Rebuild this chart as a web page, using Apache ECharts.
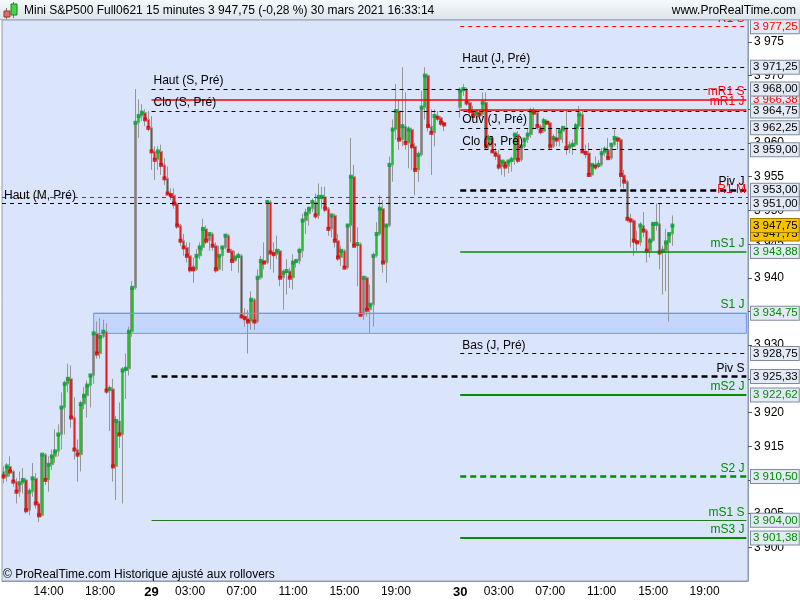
<!DOCTYPE html>
<html>
<head>
<meta charset="utf-8">
<script src="https://cdn.jsdelivr.net/npm/echarts/dist/echarts.min.js"></script>
<style>
  html, body { margin: 0; padding: 0; background: #fff; }
  #main { width: 800px; height: 600px; }
</style>
</head>
<body>
<div id="main"></div>
<script>
// bougies 15 min : [ouverture, plus haut, plus bas, clôture]
// vendredi 26 mars, 10:30 -> 21:45
var fri = [
  [3911.25,3912.0,3909.5,3910.5],[3910.5,3912.5,3909.75,3912.0],[3912.0,3913.5,3910.5,3911.25],
  [3911.25,3911.5,3909.0,3909.75],[3909.75,3910.25,3906.5,3908.25],[3908.25,3911.25,3907.5,3909.5],
  [3909.5,3911.75,3908.0,3910.0],[3910.0,3910.25,3905.0,3905.5],[3905.5,3908.75,3904.75,3908.25],
  [3908.25,3912.5,3907.5,3910.25],[3910.25,3911.0,3905.75,3906.5],[3906.5,3906.75,3903.75,3904.75],
  [3904.75,3914.0,3904.5,3913.75],[3913.75,3914.0,3909.25,3910.0],[3910.0,3913.5,3908.25,3912.25],
  [3912.25,3914.5,3911.5,3913.5],[3913.5,3917.5,3912.5,3914.25],[3914.25,3918.25,3913.5,3916.75],
  [3916.75,3923.0,3914.5,3920.75],[3920.75,3924.75,3916.75,3924.25],[3924.25,3927.25,3923.0,3925.0],
  [3925.0,3927.0,3917.75,3919.25],[3919.25,3922.25,3913.0,3914.5],[3914.5,3916.0,3909.75,3913.75],
  [3913.75,3921.75,3911.25,3921.25],[3921.25,3923.75,3920.5,3922.5],[3922.5,3924.75,3919.25,3924.0],
  [3924.0,3925.75,3920.75,3925.5],[3925.5,3932.5,3924.25,3931.75],[3931.75,3933.5,3928.0,3928.75],
  [3928.75,3934.0,3928.0,3931.25],[3931.25,3933.75,3931.0,3932.0],[3932.0,3933.25,3922.75,3923.25],
  [3923.25,3924.0,3917.25,3923.5],[3923.5,3925.0,3909.75,3912.0],[3912.0,3919.5,3907.0,3918.75],
  [3918.75,3921.5,3914.75,3916.75],[3916.75,3926.75,3906.5,3926.25],[3926.25,3928.75,3922.0,3926.5],
  [3926.5,3932.75,3925.5,3932.0],[3932.0,3939.5,3931.25,3938.5],[3938.5,3968.0,3938.25,3963.0],
  [3963.0,3966.5,3960.75,3964.0],[3964.0,3965.75,3963.25,3964.5],[3964.5,3965.0,3962.5,3963.5],
  [3963.5,3964.75,3961.75,3962.25]
];
// lundi 29 mars, 00:00 -> 22:45
var mon = [
  [3962.25,3964.0,3956.0,3958.75],[3958.75,3959.5,3954.5,3957.5],[3957.5,3959.5,3956.0,3958.75],
  [3958.75,3959.75,3955.25,3956.75],[3956.75,3957.75,3953.75,3954.75],[3954.75,3956.5,3952.25,3952.5],
  [3952.5,3953.25,3951.5,3952.25],[3952.25,3953.25,3950.25,3951.0],[3951.0,3951.25,3947.25,3947.75],
  [3947.75,3948.0,3944.75,3945.5],[3945.5,3946.5,3943.25,3944.5],[3944.5,3945.25,3942.25,3943.25],
  [3943.25,3945.25,3940.75,3941.25],[3941.75,3943.0,3939.25,3941.25],[3941.25,3944.25,3941.0,3943.25],
  [3943.25,3945.25,3942.75,3944.5],[3944.5,3948.75,3944.0,3947.25],[3947.25,3947.75,3945.0,3945.5],
  [3945.5,3946.75,3944.0,3946.5],[3946.5,3946.75,3944.0,3944.75],[3944.75,3945.25,3940.75,3941.25],
  [3941.25,3944.75,3941.0,3943.25],[3943.25,3944.75,3941.0,3944.5],[3944.5,3946.5,3944.25,3946.25],
  [3946.25,3946.5,3943.75,3944.0],[3944.0,3944.25,3941.0,3942.5],[3942.5,3944.0,3942.25,3943.0],
  [3943.0,3943.75,3940.75,3943.25],[3943.25,3943.5,3934.0,3934.25],[3934.25,3935.5,3932.75,3934.0],
  [3934.0,3935.25,3928.75,3933.5],[3933.5,3938.0,3932.25,3936.75],[3936.75,3937.0,3932.25,3933.5],
  [3933.5,3941.25,3933.25,3940.0],[3940.0,3943.25,3939.75,3942.5],[3942.5,3945.25,3941.25,3942.25],
  [3942.25,3951.5,3942.0,3951.25],[3951.25,3951.5,3941.25,3943.75],[3943.75,3945.25,3940.75,3943.5],
  [3943.5,3946.25,3942.75,3944.0],[3944.0,3944.25,3938.75,3940.0],[3940.0,3941.25,3935.25,3940.75],
  [3940.75,3942.75,3937.5,3941.0],[3941.0,3941.5,3938.5,3940.0],[3940.0,3943.5,3938.25,3942.25],
  [3942.25,3942.75,3941.5,3942.5],[3942.5,3944.5,3942.0,3944.0],[3944.0,3949.5,3943.0,3948.5],
  [3948.5,3950.25,3946.5,3949.5],[3949.5,3950.5,3947.75,3950.25],[3950.25,3951.75,3949.75,3951.25],
  [3951.25,3952.5,3948.75,3949.25],[3949.25,3954.0,3948.75,3952.0],[3951.75,3953.5,3950.25,3952.0],
  [3952.0,3953.5,3949.75,3950.25],[3950.25,3950.5,3946.25,3947.25],[3947.25,3949.5,3946.0,3949.25],
  [3949.25,3949.5,3944.5,3945.5],[3945.5,3946.5,3942.5,3943.0],[3943.0,3944.75,3941.75,3944.0],
  [3944.0,3944.25,3941.25,3941.5],[3941.5,3948.0,3941.25,3947.75],[3947.75,3960.75,3945.25,3955.0],
  [3955.0,3956.75,3944.5,3944.75],[3944.75,3947.5,3938.75,3945.0],[3945.0,3945.25,3934.25,3934.5],
  [3934.5,3940.25,3933.75,3940.0],[3940.0,3940.25,3934.25,3935.25],[3935.25,3939.0,3931.75,3936.0],
  [3936.0,3943.75,3932.75,3943.25],[3943.25,3948.25,3943.0,3946.5],[3946.5,3952.25,3946.25,3950.25],
  [3950.25,3951.5,3940.75,3942.25],[3942.25,3948.0,3939.25,3947.75],[3947.75,3958.0,3947.5,3956.75],
  [3956.75,3963.5,3954.25,3962.0],[3962.0,3968.75,3960.5,3964.75],[3964.75,3966.5,3959.0,3960.5],
  [3960.5,3971.25,3959.5,3962.5],[3962.5,3967.5,3959.0,3960.0],[3960.0,3962.5,3956.25,3962.0],
  [3962.0,3962.25,3956.0,3959.5],[3959.5,3960.0,3952.25,3956.0],[3956.0,3958.75,3954.25,3958.25],
  [3958.25,3967.75,3958.0,3965.25],[3965.25,3971.25,3963.5,3970.0],[3970.0,3970.25,3961.75,3962.5],
  [3962.5,3965.0,3955.25,3961.5],[3961.5,3965.0,3959.5,3964.0],[3964.0,3964.75,3963.25,3963.75],
  [3963.75,3964.0,3962.5,3963.0],[3963.0,3963.25,3961.75,3962.75]
];
var monBreakSlots = 4; // 23:00 -> 23:45 sans cotation
// mardi 30 mars, 00:00 -> 16:30
var tue = [
  [3965.25,3968.25,3963.75,3967.75],[3967.75,3968.75,3967.0,3968.0],[3968.0,3968.25,3965.5,3966.0],
  [3966.0,3966.25,3964.25,3964.75],[3964.75,3965.5,3963.75,3964.0],[3964.0,3965.0,3963.5,3964.5],
  [3964.5,3965.0,3964.0,3964.25],[3964.25,3967.5,3963.75,3966.0],[3966.0,3967.5,3959.0,3959.5],
  [3959.5,3961.25,3959.0,3960.75],[3960.75,3961.0,3958.5,3958.75],[3958.75,3959.25,3957.5,3958.25],
  [3958.25,3959.0,3956.0,3956.5],[3956.5,3957.5,3955.25,3957.25],[3957.25,3957.5,3955.0,3956.5],
  [3956.5,3957.5,3955.5,3957.25],[3957.25,3958.0,3955.75,3957.5],[3957.5,3961.5,3956.75,3961.25],
  [3961.25,3961.75,3957.0,3957.5],[3957.5,3960.5,3957.25,3959.5],[3959.5,3960.75,3959.25,3960.5],
  [3960.5,3962.0,3960.0,3961.25],[3961.25,3965.25,3960.75,3964.75],[3964.75,3965.25,3962.0,3964.5],
  [3964.5,3964.75,3962.0,3962.5],[3962.5,3962.75,3961.25,3961.75],[3961.75,3963.75,3961.5,3963.25],
  [3963.25,3963.5,3962.75,3963.0],[3963.0,3963.25,3959.0,3959.5],[3959.5,3961.25,3959.25,3960.75],
  [3960.75,3962.25,3959.5,3960.5],[3960.5,3962.0,3959.5,3961.75],[3961.75,3962.5,3960.0,3962.25],
  [3962.25,3964.75,3958.25,3959.25],[3959.25,3960.25,3958.5,3959.5],[3959.5,3960.5,3958.25,3959.75],
  [3959.75,3963.0,3959.5,3962.5],[3962.5,3965.5,3962.0,3964.25],[3964.25,3964.75,3958.5,3958.75],
  [3958.75,3959.75,3957.75,3958.5],[3958.5,3960.0,3955.0,3955.25],[3955.25,3957.0,3955.0,3956.75],
  [3956.75,3958.0,3956.0,3956.5],[3956.5,3957.5,3956.25,3956.75],[3956.75,3959.25,3956.5,3958.5],
  [3958.5,3959.5,3958.0,3959.0],[3959.0,3960.75,3957.5,3957.75],[3957.75,3960.0,3957.5,3959.75],
  [3959.75,3962.0,3959.5,3960.75],[3960.75,3961.0,3959.0,3960.5],[3960.5,3960.75,3953.5,3955.25],
  [3955.25,3956.0,3953.25,3954.25],[3954.25,3954.5,3948.25,3948.75],[3948.75,3949.5,3944.5,3948.5],
  [3948.5,3948.75,3943.25,3945.5],[3945.5,3947.0,3944.0,3945.25],[3945.25,3948.25,3944.75,3947.75],
  [3947.75,3949.75,3946.0,3947.0],[3947.0,3947.25,3942.25,3944.0],[3944.0,3946.0,3943.0,3945.5],
  [3945.5,3948.25,3945.25,3948.0],[3948.0,3951.0,3947.0,3948.0],[3948.0,3951.0,3941.25,3943.75],
  [3943.75,3944.75,3937.5,3944.0],[3944.0,3947.25,3938.0,3945.25],[3945.25,3946.75,3933.5,3946.5],
  [3946.5,3949.25,3944.75,3947.75]
];

// niveaux (pivots, plus hauts / bas précédents)
var levelNames  = ['R1 S','Haut (J, Pré)','Haut (S, Pré)','mR1 S','mR1 J','Clo (S, Pré)','Ouv (J, Pré)',
                   'Clo (J, Pré)','Piv J','R1 M','Haut (M, Pré)','mS1 J','S1 J','Bas (J, Pré)','Piv S',
                   'mS2 J','S2 J','mS1 S','mS3 J'];
var levelValues = [3977.25,3971.25,3968.00,3966.38,3965.00,3964.75,3962.25,3959.00,3953.00,3951.92,
                   3951.00,3943.88,3934.75,3928.75,3925.33,3922.62,3910.50,3904.00,3901.38];
var levelFrom   = ['30 00:00','30 00:00','29 00:00','29 00:00','30 00:00','29 00:00','30 00:00',
                   '30 00:00','30 00:00',null,null,'30 00:00','26 17:30','30 00:00','29 00:00',
                   '30 00:00','30 00:00','29 00:00','30 00:00'];
var zoneFrom = '26 17:30', zoneTop = 3934.75, zoneBottom = 3931.75;
var lastPrice = 3947.75;

var tickTimes = ['26 14:00','26 18:00','29 00:00','29 03:00','29 07:00','29 11:00','29 15:00','29 19:00',
                 '29 23:00','30 03:00','30 07:00','30 11:00','30 15:00','30 19:00'];
var tickLabels = {'26 14:00':'14:00','26 18:00':'18:00','29 00:00':'{d|29}','29 03:00':'03:00',
                  '29 07:00':'07:00','29 11:00':'11:00','29 15:00':'15:00','29 19:00':'19:00',
                  '30 00:00':'{d|30}','30 03:00':'03:00','30 07:00':'07:00','30 11:00':'11:00',
                  '30 15:00':'15:00','30 19:00':'19:00'};

// créneaux de 15 minutes de l'axe des temps
function pad(n) { return (n < 10 ? '0' : '') + n; }
function slots(day, from, to) {
  var out = [];
  for (var m = from; m <= to; m += 15) out.push(day + ' ' + pad(Math.floor(m / 60)) + ':' + pad(m % 60));
  return out;
}
var categories = [].concat(slots('26', 630, 1305), slots('29', 0, 1425), slots('30', 0, 1335));
var lastCat = categories[categories.length - 1];

function fr(v, dec) {
  var s = v.toFixed(dec).split('.');
  var ent = s[0].replace(/\B(?=(\d{3})+(?!\d))/g, ' ');
  return s.length > 1 ? ent + ',' + s[1] : ent;
}

var RED = '#ff0000', GREEN = '#008c00', BLACK = '#000000';
var dash = [4, 4];
var lineStyles = {
  'R1 S': {color: RED, type: dash, width: 1},
  'Haut (J, Pré)': {color: BLACK, type: dash, width: 1},
  'Haut (S, Pré)': {color: BLACK, type: dash, width: 1},
  'mR1 S': {color: RED, type: 'solid', width: 1.5},
  'mR1 J': {color: RED, type: 'solid', width: 1.5},
  'Clo (S, Pré)': {color: BLACK, type: dash, width: 1},
  'Ouv (J, Pré)': {color: BLACK, type: dash, width: 1},
  'Clo (J, Pré)': {color: BLACK, type: dash, width: 1},
  'Piv J': {color: BLACK, type: [6, 4], width: 2.5},
  'R1 M': {color: RED, type: dash, width: 1},
  'Haut (M, Pré)': {color: BLACK, type: dash, width: 1},
  'mS1 J': {color: GREEN, type: 'solid', width: 1.5},
  'S1 J': {color: '#6a98f4', type: 'solid', width: 1},
  'Bas (J, Pré)': {color: BLACK, type: dash, width: 1},
  'Piv S': {color: BLACK, type: [6, 4], width: 2.5},
  'mS2 J': {color: GREEN, type: 'solid', width: 2},
  'S2 J': {color: GREEN, type: [6, 4], width: 2.5},
  'mS1 S': {color: '#1f7a1f', type: 'solid', width: 1},
  'mS3 J': {color: GREEN, type: 'solid', width: 2}
};
function textColor(name) {
  var c = lineStyles[name].color;
  if (c === RED) return RED;
  if (name.indexOf('S1 J') >= 0 || c !== BLACK) return GREEN;
  return BLACK;
}

var levelLines = levelNames.map(function (name, i) {
  var v = levelValues[i];
  var left = name.indexOf('Pré') >= 0;
  var label = {
    show: true, formatter: name, color: textColor(name), fontSize: 12,
    position: left ? 'insideStartTop' : 'insideEndTop', distance: 2
  };
  if (levelFrom[i] === null) {
    return {yAxis: v, lineStyle: lineStyles[name], label: label};
  }
  return [
    {coord: [levelFrom[i], v], lineStyle: lineStyles[name], label: label},
    {coord: [lastCat, v]}
  ];
});

// étiquettes de prix sur l'axe (les rouges dessous)
var boxOrder = levelNames.map(function (n, i) { return i; })
  .filter(function (i) { return levelNames[i] !== 'mR1 J'; })
  .sort(function (a, b) {
    return (textColor(levelNames[b]) === RED) - (textColor(levelNames[a]) === RED);
  });
var boxLines = boxOrder.map(function (i) {
  return {yAxis: levelValues[i], label: {formatter: fr(levelValues[i], 2), color: textColor(levelNames[i])}};
});

var bars = [].concat(fri, mon, new Array(monBreakSlots).fill(null), tue);
var candleData = bars.map(function (d) { return d ? [d[0], d[3], d[2], d[1]] : '-'; });
var closeData = [];
bars.forEach(function (d, i) {
  if (d) closeData.push({value: [i, d[3]], itemStyle: {color: d[3] >= d[0] ? '#00a032' : '#dd0000'}});
});

var boxLabel = {
  show: true, position: 'end', distance: 3, fontSize: 11.5,
  backgroundColor: '#e3eaf5', borderColor: '#7d8d9e', borderWidth: 1,
  padding: [1, 1, 0, 2], lineHeight: 12
};
var hidden = {color: 'rgba(0,0,0,0)', width: 1, type: 'solid'};
var hdrFont = '12px "Liberation Sans", Arial, sans-serif';

var chart = echarts.init(document.getElementById('main'), null, {renderer: 'canvas'});
chart.setOption({
  animation: false,
  backgroundColor: '#ffffff',
  textStyle: {fontFamily: 'Liberation Sans, Arial, sans-serif'},
  grid: {
    left: 2, right: 52, top: 20, bottom: 19, show: true,
    backgroundColor: '#dae4fb', borderColor: '#8f9ba8', borderWidth: 1
  },
  xAxis: {
    type: 'category', data: categories, boundaryGap: true,
    axisLine: {lineStyle: {color: '#8f9ba8'}},
    axisTick: {
      alignWithLabel: true, length: 4, lineStyle: {color: '#555'},
      interval: function (i, v) { return tickTimes.indexOf(v) >= 0; }
    },
    axisLabel: {
      color: '#000', fontSize: 12, margin: 5,
      interval: function (i, v) { return tickLabels[v] !== undefined; },
      formatter: function (v) { return tickLabels[v] || ''; },
      rich: {d: {fontWeight: 'bold', fontSize: 13, color: '#000'}}
    },
    splitLine: {show: false}
  },
  yAxis: {
    type: 'value', position: 'right', min: 3895, max: 3978.25, interval: 5, scale: true,
    axisLine: {show: true, lineStyle: {color: '#8f9ba8'}},
    axisTick: {show: true, length: 4, lineStyle: {color: '#555'}},
    axisLabel: {
      color: '#000', fontSize: 12, margin: 6, showMinLabel: false, showMaxLabel: false,
      formatter: function (v) { return fr(v, 0); }
    },
    splitLine: {show: false}
  },
  series: [
    {
      name: 'niveaux', type: 'line', data: [], z: 1, silent: true,
      markArea: {
        silent: true,
        itemStyle: {color: 'rgba(170,195,255,0.45)', borderColor: '#6a98f4', borderWidth: 1},
        data: [[{coord: [zoneFrom, zoneTop]}, {coord: [lastCat, zoneBottom]}]]
      },
      markLine: {silent: true, symbol: ['none', 'none'], animation: false, data: levelLines}
    },
    {
      name: 'Mini S&P500', type: 'candlestick', data: candleData, z: 3, barWidth: 3,
      itemStyle: {
        color: '#22c022', color0: '#ee1c1c',
        borderColor: '#969696', borderColor0: '#969696', borderWidth: 1
      }
    },
    {
      name: 'clôture', type: 'scatter', data: closeData, z: 4, symbol: 'rect', symbolSize: 4, silent: true
    },
    {
      name: 'prix', type: 'line', data: [], z: 5, silent: true, clip: false,
      markLine: {
        silent: true, symbol: ['none', 'none'], animation: false,
        lineStyle: hidden, label: boxLabel, data: boxLines
      }
    },
    {
      name: 'dernier', type: 'line', data: [], z: 6, silent: true, clip: false,
      markLine: {
        silent: true, symbol: ['none', 'none'], animation: false,
        lineStyle: hidden,
        label: Object.assign({}, boxLabel, {backgroundColor: '#f6c200', borderColor: '#9c7a00', color: '#000'}),
        data: [
          {yAxis: lastPrice - 1.25, label: {formatter: fr(lastPrice, 2)}},
          {yAxis: lastPrice, label: {formatter: fr(lastPrice, 2)}}
        ]
      }
    }
  ],
  graphic: [
    {type: 'rect', zlevel: 1, z: 100, shape: {x: 0, y: 0, width: 800, height: 19},
     style: {fill: new echarts.graphic.LinearGradient(0, 0, 0, 1, [
       {offset: 0, color: '#f5f9fb'}, {offset: 1, color: '#dbe5ec'}]), stroke: null}},
    {type: 'line', zlevel: 1, z: 101, shape: {x1: 0, y1: 19.5, x2: 800, y2: 19.5},
     style: {stroke: '#a7b4c0', lineWidth: 1}},
    {type: 'line', zlevel: 1, z: 101, shape: {x1: 6.5, y1: 8, x2: 6.5, y2: 19},
     style: {stroke: '#777', lineWidth: 1}},
    {type: 'rect', zlevel: 1, z: 102, shape: {x: 4, y: 11, width: 6, height: 6},
     style: {fill: '#e36a6a', stroke: '#9a3030', lineWidth: 1}},
    {type: 'line', zlevel: 1, z: 101, shape: {x1: 13.5, y1: 2, x2: 13.5, y2: 18},
     style: {stroke: '#777', lineWidth: 1}},
    {type: 'rect', zlevel: 1, z: 102, shape: {x: 11, y: 4, width: 6, height: 11},
     style: {fill: '#43d443', stroke: '#227a22', lineWidth: 1}},
    {type: 'text', zlevel: 1, z: 102, x: 24, y: 11,
     style: {text: 'Mini S&P500 Full0621 15 minutes 3 947,75 (-0,28 %) 30 mars 2021 16:33:14',
             fill: '#000', font: hdrFont, verticalAlign: 'middle'}},
    {type: 'text', zlevel: 1, z: 102, x: 796, y: 11,
     style: {text: 'www.ProRealTime.com', fill: '#000', align: 'right', font: hdrFont, verticalAlign: 'middle'}},
    {type: 'text', z: 50, x: 3, y: 575,
     style: {text: '© ProRealTime.com Historique ajusté aux rollovers', fill: '#000',
             font: hdrFont, verticalAlign: 'middle'}}
  ]
});
</script>
</body>
</html>
